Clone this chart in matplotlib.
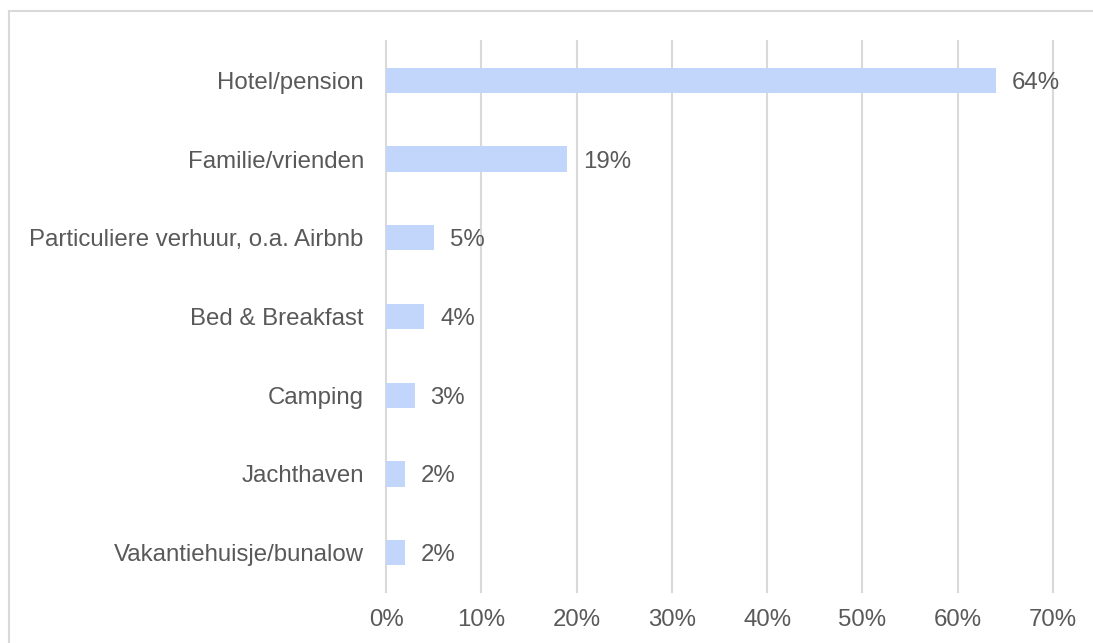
import matplotlib
matplotlib.use('Agg')
import matplotlib.pyplot as plt
from matplotlib.patches import Rectangle

categories = ['Hotel/pension', 'Familie/vrienden', 'Particuliere verhuur, o.a. Airbnb',
              'Bed & Breakfast', 'Camping', 'Jachthaven', 'Vakantiehuisje/bunalow']
values = [64, 19, 5, 4, 3, 2, 2]
ticks = [0, 10, 20, 30, 40, 50, 60, 70]

BAR_COLOR = '#c2d5fb'
TEXT_COLOR = '#595959'
GRID_COLOR = '#d9d9d9'
FS = 17.3

plt.rcParams['font.family'] = ['Liberation Sans', 'DejaVu Sans']

fig = plt.figure(figsize=(10.93, 6.43), dpi=100)
ax = fig.add_axes([386 / 1093, 1 - 592 / 643, (1053 - 386) / 1093, (592 - 41) / 643])

# outer chart frame (only left/top visible in the crop)
fig.patches.append(Rectangle((9 / 1093, -0.1), 1.2, 1 - 11 / 643 + 0.1, transform=fig.transFigure,
                             fill=False, edgecolor=GRID_COLOR, linewidth=1.5))

y = list(range(len(categories)))
ax.barh(y, values, height=0.32, color=BAR_COLOR, zorder=2)
for yi, v in zip(y, values):
    ax.annotate(f'{v}%', (v, yi), xytext=(16, 0), textcoords='offset pixels',
                ha='left', va='center_baseline', fontsize=FS, color=TEXT_COLOR, zorder=3)

ax.set_xlim(0, 70)
ax.set_ylim(len(categories) - 0.5, -0.5)
ax.set_xticks(ticks)
ax.set_xticklabels([f'{t}%' for t in ticks])
ax.set_yticks(y)
ax.set_yticklabels(categories)
ax.tick_params(axis='both', length=0, labelsize=FS, labelcolor=TEXT_COLOR)
ax.tick_params(axis='y', pad=16)
ax.tick_params(axis='x', pad=12)
for gl in ax.xaxis.get_gridlines():
    gl.set_clip_on(False)
ax.grid(axis='x', color=GRID_COLOR, linewidth=1.5, zorder=0)
for gl in ax.get_xgridlines():
    gl.set_clip_on(False)
ax.set_axisbelow(True)
for s in ax.spines.values():
    s.set_visible(False)

fig.savefig('out.png', dpi=100)
